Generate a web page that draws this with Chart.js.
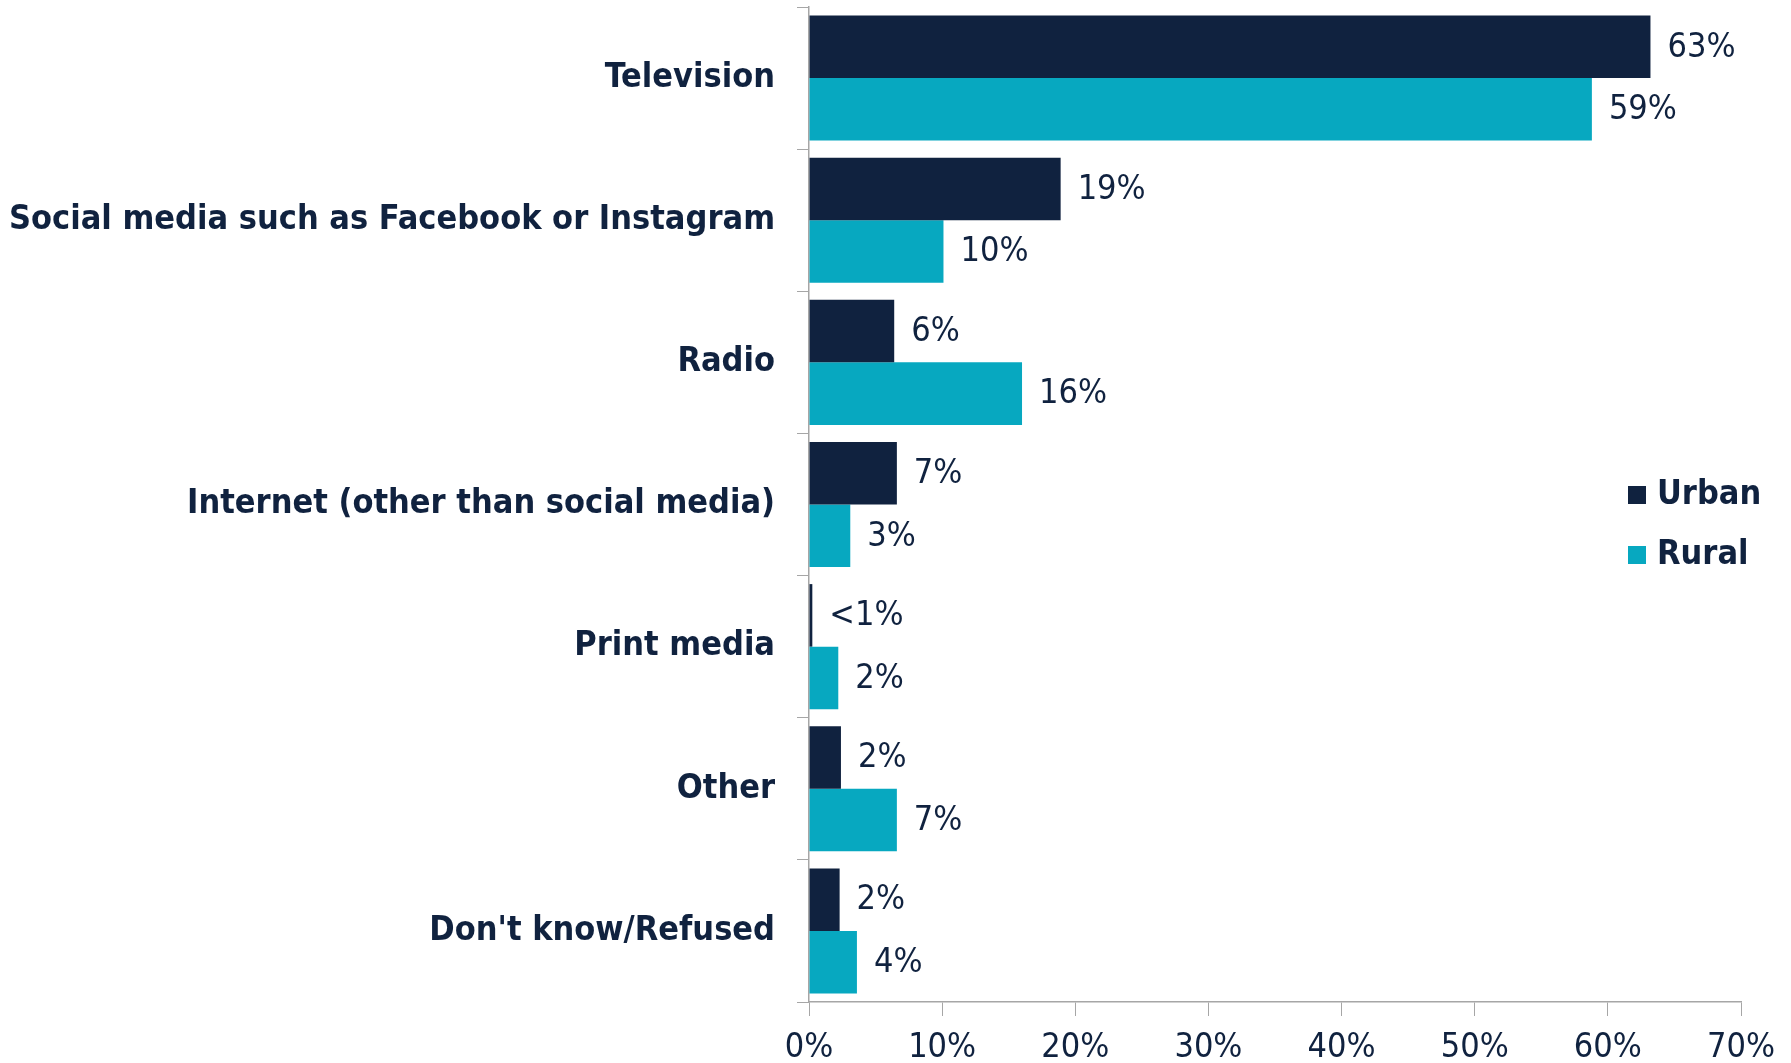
<!DOCTYPE html>
<html>
<head>
<meta charset="utf-8">
<script src="https://cdn.jsdelivr.net/npm/chart.js"></script>
<style>
  html, body { margin: 0; padding: 0; background: #fff; }
  #wrap { width: 1791px; height: 1063px; }
</style>
</head>
<body>
<div id="wrap"><canvas id="myChart" width="1791" height="1063"></canvas></div>
<script>
// data
const categories = [
  "Television",
  "Social media such as Facebook or Instagram",
  "Radio",
  "Internet (other than social media)",
  "Print media",
  "Other",
  "Don't know/Refused"
];
const urbanValues = [63.2, 18.9, 6.4, 6.6, 0.25, 2.4, 2.3];
const ruralValues = [58.8, 10.1, 16.0, 3.1, 2.2, 6.6, 3.6];
const urbanLabels = ["63%", "19%", "6%", "7%", "<1%", "2%", "2%"];
const ruralLabels = ["59%", "10%", "16%", "3%", "2%", "7%", "4%"];
const xTicks = [0, 10, 20, 30, 40, 50, 60, 70];

const NAVY = "#10223f";
const TEAL = "#07a8c0";
const AXIS = "#a6a6a6";
const FONT = "'DejaVu Sans Condensed', 'DejaVu Sans', sans-serif";

// draws the value labels next to each bar
const barLabels = {
  id: "barLabels",
  afterDatasetsDraw(chart) {
    const ctx = chart.ctx;
    ctx.save();
    ctx.font = "34px " + FONT;
    ctx.fillStyle = NAVY;
    ctx.textBaseline = "middle";
    ctx.textAlign = "left";
    chart.data.datasets.forEach((ds, i) => {
      chart.getDatasetMeta(i).data.forEach((bar, j) => {
        ctx.fillText(ds.valueLabels[j], bar.x + 17, bar.y + 1);
      });
    });
    ctx.restore();
  }
};

// legend sitting inside the plot on the right
const sideLegend = {
  id: "sideLegend",
  afterDraw(chart) {
    const ctx = chart.ctx;
    ctx.save();
    ctx.font = "bold 34px " + FONT;
    ctx.textBaseline = "middle";
    chart.data.datasets.forEach((ds, i) => {
      const y = 495 + i * 60;
      ctx.fillStyle = ds.backgroundColor;
      ctx.fillRect(1628, y - 9, 18, 18);
      ctx.fillStyle = NAVY;
      ctx.fillText(ds.label, 1657, y);
    });
    ctx.restore();
  }
};

function main() {
  const ctx = document.getElementById("myChart");
  new Chart(ctx, {
    type: "bar",
    data: {
      labels: categories,
      datasets: [
        { label: "Urban", data: urbanValues, valueLabels: urbanLabels, backgroundColor: NAVY },
        { label: "Rural", data: ruralValues, valueLabels: ruralLabels, backgroundColor: TEAL }
      ]
    },
    options: {
      indexAxis: "y",
      responsive: false,
      animation: false,
      devicePixelRatio: 1,
      layout: { padding: { top: 7, right: 50, left: 0, bottom: 0 } },
      datasets: { bar: { categoryPercentage: 0.88, barPercentage: 1.0 } },
      plugins: { legend: { display: false }, tooltip: { enabled: false } },
      scales: {
        x: {
          min: 0,
          max: 70,
          afterBuildTicks: (scale) => { scale.ticks = xTicks.map((v) => ({ value: v })); },
          afterFit: (scale) => { scale.height = 61; },
          grid: { drawOnChartArea: false, drawTicks: true, tickLength: 14, color: AXIS },
          border: { color: AXIS, width: 1.5 },
          ticks: {
            color: NAVY,
            padding: 12,
            font: { family: FONT, size: 34 },
            callback: (v) => v + "%"
          }
        },
        y: {
          afterFit: (scale) => {
            scale.width = 809;
            scale.paddingTop = 0;
            scale.paddingBottom = 0;
          },
          grid: { offset: true, drawOnChartArea: false, drawTicks: true, tickLength: 12, color: AXIS },
          border: { color: AXIS, width: 1.5 },
          ticks: {
            color: NAVY,
            padding: 22,
            font: { family: FONT, size: 34, weight: "bold" }
          }
        }
      }
    },
    plugins: [barLabels, sideLegend]
  });
}

main();
</script>
</body>
</html>
